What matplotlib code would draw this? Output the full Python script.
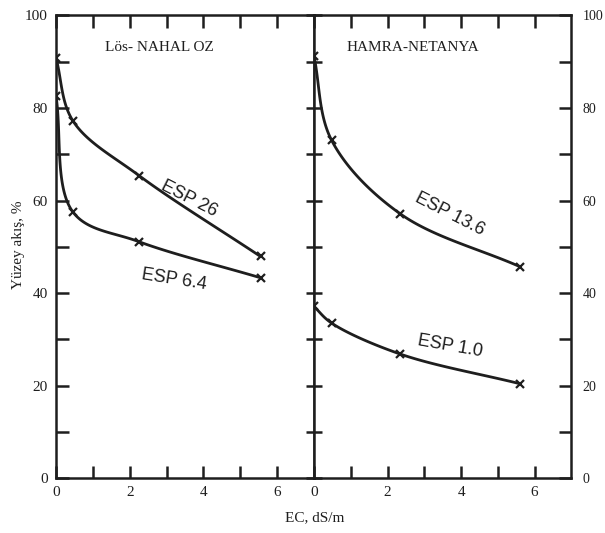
import numpy as np
import matplotlib
matplotlib.use("Agg")
import matplotlib.pyplot as plt
from matplotlib.lines import TICKLEFT

# values
ec_left = [0.0, 0.46, 2.25, 5.55]
esp26 = [90.8, 77.2, 65.4, 47.9]
esp64 = [82.6, 57.5, 51.1, 43.3]

ec_right = [0.0, 0.48, 2.35, 5.6]
esp136 = [91.2, 73.0, 57.1, 45.7]
esp10 = [37.1, 33.5, 26.8, 20.4]

panel_titles = ["Lös- NAHAL OZ", "HAMRA-NETANYA"]
curve_labels = ["ESP 26", "ESP 6.4", "ESP 13.6", "ESP 1.0"]

SERIF = "Liberation Serif"
SANS = "Liberation Sans"
INK = "#1e1e1e"
SX, SY = 37.3, 4.66  # rough px per data unit, only to shape the drawn curve


def smooth(x, y, n=40):
    """centripetal Catmull-Rom through the points (drawing only)"""
    p = np.column_stack([np.asarray(x, float) * SX, np.asarray(y, float) * SY])
    p = np.vstack([2 * p[0] - p[1], p, 2 * p[-1] - p[-2]])
    out = []
    for i in range(len(p) - 3):
        P0, P1, P2, P3 = p[i:i + 4]
        t0 = 0.0
        t1 = t0 + np.linalg.norm(P1 - P0) ** 0.5
        t2 = t1 + np.linalg.norm(P2 - P1) ** 0.5
        t3 = t2 + np.linalg.norm(P3 - P2) ** 0.5
        t = np.linspace(t1, t2, n)[:, None]
        A1 = (t1 - t) / (t1 - t0) * P0 + (t - t0) / (t1 - t0) * P1
        A2 = (t2 - t) / (t2 - t1) * P1 + (t - t1) / (t2 - t1) * P2
        A3 = (t3 - t) / (t3 - t2) * P2 + (t - t2) / (t3 - t2) * P3
        B1 = (t2 - t) / (t2 - t0) * A1 + (t - t0) / (t2 - t0) * A2
        B2 = (t3 - t) / (t3 - t1) * A2 + (t - t1) / (t3 - t1) * A3
        C = (t2 - t) / (t2 - t1) * B1 + (t - t1) / (t2 - t1) * B2
        out.append(C)
    c = np.vstack(out)
    return c[:, 0] / SX, c[:, 1] / SY


def draw_curve(ax, x, y):
    xs, ys = smooth(x, y)
    ax.plot(xs, ys, color=INK, lw=2.0, solid_capstyle="round")
    ax.plot(x, y, ls="none", marker="x", ms=6, mew=1.6, color=INK)


fig = plt.figure(figsize=(6.05, 5.33), dpi=100)
ax1 = fig.add_axes([0.0926, 0.103, 0.4264, 0.868])
ax2 = fig.add_axes([0.519, 0.103, 0.4255, 0.868])

for ax in (ax1, ax2):
    ax.set_xlim(0, 7)
    ax.set_ylim(0, 100)
    for sp in ax.spines.values():
        sp.set_linewidth(1.8)
        sp.set_color(INK)
    ax.set_xticks([0, 2, 4, 6])
    ax.set_xticks([1, 3, 5], minor=True)
    ax.set_yticks([0, 20, 40, 60, 80, 100])
    ax.set_yticks([10, 30, 50, 70, 90], minor=True)
    ax.tick_params(which="both", direction="in", length=9, width=1.8, color=INK,
                   top=True, bottom=True, labelsize=11, pad=6)

ax1.tick_params(which="both", left=True, right=False, labelleft=True)
ax2.tick_params(axis="y", which="both", left=True, right=True, labelleft=False,
                labelright=True, direction="inout", length=12, pad=2)
# right spine ticks point inward, the shared divider ticks cross the line
for t in ax2.yaxis.get_major_ticks() + ax2.yaxis.get_minor_ticks():
    t.tick2line.set_marker(TICKLEFT)
    t.tick2line.set_markersize(9)

for ax in (ax1, ax2):
    for lab in ax.get_xticklabels() + ax.get_yticklabels():
        lab.set_fontfamily(SERIF)
        lab.set_color(INK)
for lab in ax2.get_yticklabels():
    lab.set_fontsize(10)

# left panel
draw_curve(ax1, ec_left, esp26)
draw_curve(ax1, ec_left, esp64)
ax1.text(1.32, 93, panel_titles[0], fontsize=11, family=SERIF, color=INK, va="center")
ax1.text(3.6, 60.3, curve_labels[0], fontsize=13, rotation=-27, ha="center", va="center",
         color=INK, family=SANS)
ax1.text(3.2, 42.9, curve_labels[1], fontsize=13, rotation=-9, ha="center", va="center",
         color=INK, family=SANS)

# right panel
draw_curve(ax2, ec_right, esp136)
draw_curve(ax2, ec_right, esp10)
ax2.text(0.88, 93, panel_titles[1], fontsize=11, family=SERIF, color=INK, va="center")
ax2.text(3.7, 57, curve_labels[2], fontsize=13, rotation=-27, ha="center", va="center",
         color=INK, family=SANS)
ax2.text(3.7, 28.5, curve_labels[3], fontsize=13, rotation=-10, ha="center", va="center",
         color=INK, family=SANS)

fig.text(0.03, 0.54, "Yüzey akış, %", rotation=90, ha="center", va="center",
         fontsize=11, family=SERIF, color=INK)
fig.text(0.52, 0.028, "EC, dS/m", ha="center", va="center", fontsize=11,
         family=SERIF, color=INK)

fig.savefig("out.png", dpi=100)
